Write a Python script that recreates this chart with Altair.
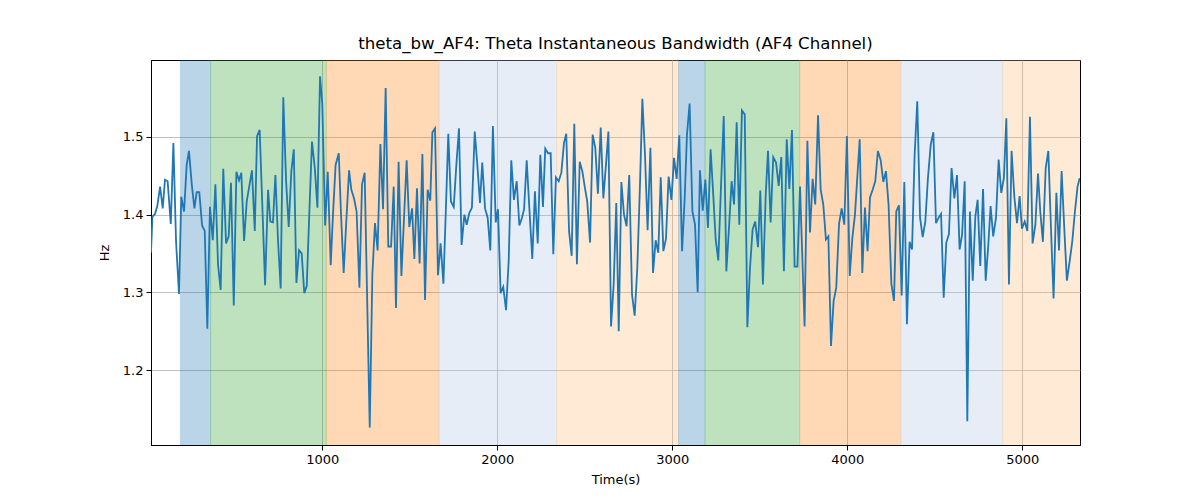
import altair as alt
import pandas as pd

TIME_S = [21, 29, 44, 57, 73, 88, 101, 116, 134, 149, 164, 181, 194, 210, 225, 238, 254, 269, 282, 297,
          313, 328, 343, 358, 374, 389, 404, 419, 434, 450, 465, 478, 494, 509, 524, 537, 553, 568, 583, 598,
          614, 627, 642, 657, 673, 690, 703, 718, 732, 747, 762, 777, 793, 808, 823, 837, 852, 867, 882, 897,
          911, 926, 941, 957, 972, 987, 1000, 1016, 1031, 1048, 1061, 1076, 1094, 1107, 1122, 1137, 1153, 1166, 1181, 1196,
          1212, 1227, 1242, 1255, 1271, 1286, 1301, 1316, 1332, 1347, 1362, 1377, 1393, 1408, 1421, 1436, 1452, 1467, 1482, 1497,
          1513, 1526, 1541, 1556, 1572, 1587, 1602, 1617, 1629, 1644, 1661, 1676, 1692, 1707, 1720, 1735, 1751, 1766, 1781, 1796,
          1812, 1825, 1840, 1855, 1871, 1886, 1901, 1914, 1930, 1945, 1960, 1975, 1991, 2004, 2019, 2034, 2050, 2065, 2080, 2095,
          2111, 2126, 2141, 2153, 2168, 2183, 2200, 2215, 2231, 2246, 2261, 2274, 2290, 2305, 2320, 2335, 2351, 2366, 2381, 2394,
          2410, 2425, 2440, 2455, 2471, 2486, 2501, 2514, 2530, 2545, 2560, 2575, 2591, 2606, 2621, 2635, 2650, 2665, 2680, 2694,
          2709, 2724, 2739, 2754, 2770, 2785, 2800, 2816, 2829, 2844, 2859, 2875, 2890, 2905, 2920, 2934, 2949, 2964, 2979, 2995,
          3010, 3025, 3040, 3056, 3071, 3084, 3099, 3115, 3130, 3145, 3158, 3174, 3189, 3204, 3219, 3234, 3248, 3263, 3278, 3294,
          3309, 3324, 3339, 3353, 3368, 3383, 3398, 3414, 3429, 3444, 3459, 3474, 3490, 3503, 3518, 3534, 3547, 3562, 3577, 3593,
          3608, 3623, 3638, 3654, 3669, 3684, 3699, 3715, 3730, 3756, 3772, 3787, 3802, 3817, 3833, 3848, 3863, 3878, 3892, 3907,
          3922, 3937, 3953, 3968, 3983, 3998, 4014, 4029, 4044, 4057, 4071, 4086, 4101, 4116, 4130, 4145, 4160, 4175, 4191, 4206,
          4221, 4236, 4252, 4267, 4280, 4295, 4311, 4326, 4341, 4356, 4370, 4385, 4400, 4416, 4431, 4446, 4461, 4477, 4492, 4507,
          4522, 4536, 4551, 4566, 4581, 4596, 4612, 4627, 4642, 4656, 4671, 4686, 4701, 4717, 4732, 4745, 4760, 4776, 4791, 4806,
          4819, 4834, 4850, 4865, 4880, 4895, 4909, 4924, 4939, 4955, 4970, 4985, 4998, 5014, 5029, 5044, 5059, 5075, 5090, 5103,
          5118, 5134, 5149, 5164, 5179, 5195, 5210, 5225, 5240, 5255, 5271, 5286, 5301, 5316, 5328]

BW_HZ = [1.351, 1.397, 1.401, 1.411, 1.436, 1.408, 1.445, 1.443, 1.388, 1.492, 1.366, 1.298, 1.423, 1.404, 1.464, 1.482, 1.439, 1.408, 1.429, 1.429,
         1.386, 1.379, 1.253, 1.410, 1.367, 1.439, 1.336, 1.303, 1.459, 1.363, 1.372, 1.441, 1.283, 1.455, 1.444, 1.454, 1.366, 1.417, 1.437, 1.457,
         1.379, 1.501, 1.509, 1.413, 1.309, 1.432, 1.391, 1.390, 1.451, 1.366, 1.305, 1.551, 1.443, 1.384, 1.456, 1.484, 1.312, 1.354, 1.350, 1.299,
         1.308, 1.404, 1.494, 1.460, 1.409, 1.578, 1.542, 1.386, 1.455, 1.335, 1.400, 1.464, 1.479, 1.400, 1.325, 1.391, 1.457, 1.432, 1.421, 1.404,
         1.306, 1.439, 1.454, 1.306, 1.126, 1.323, 1.389, 1.354, 1.491, 1.407, 1.563, 1.359, 1.359, 1.436, 1.280, 1.468, 1.321, 1.396, 1.470, 1.384,
         1.408, 1.343, 1.434, 1.337, 1.478, 1.290, 1.432, 1.418, 1.506, 1.511, 1.322, 1.363, 1.311, 1.413, 1.504, 1.417, 1.410, 1.464, 1.511, 1.361,
         1.400, 1.387, 1.402, 1.409, 1.507, 1.464, 1.415, 1.467, 1.408, 1.396, 1.354, 1.514, 1.390, 1.407, 1.299, 1.307, 1.277, 1.340, 1.470, 1.419,
         1.443, 1.386, 1.396, 1.407, 1.470, 1.409, 1.343, 1.430, 1.363, 1.477, 1.410, 1.485, 1.479, 1.479, 1.349, 1.448, 1.443, 1.454, 1.492, 1.504,
         1.379, 1.347, 1.517, 1.336, 1.468, 1.456, 1.434, 1.417, 1.364, 1.503, 1.486, 1.427, 1.512, 1.421, 1.464, 1.507, 1.256, 1.310, 1.415, 1.250,
         1.442, 1.400, 1.385, 1.451, 1.297, 1.270, 1.331, 1.443, 1.549, 1.477, 1.380, 1.486, 1.325, 1.367, 1.351, 1.448, 1.353, 1.369, 1.449, 1.419,
         1.473, 1.446, 1.502, 1.353, 1.422, 1.503, 1.543, 1.404, 1.387, 1.300, 1.457, 1.405, 1.445, 1.383, 1.484, 1.426, 1.368, 1.341, 1.434, 1.527,
         1.327, 1.383, 1.443, 1.413, 1.519, 1.387, 1.534, 1.529, 1.255, 1.331, 1.381, 1.391, 1.358, 1.431, 1.310, 1.426, 1.482, 1.390, 1.474, 1.467,
         1.437, 1.474, 1.327, 1.497, 1.433, 1.509, 1.333, 1.333, 1.436, 1.256, 1.495, 1.377, 1.446, 1.413, 1.528, 1.432, 1.413, 1.368, 1.372, 1.231,
         1.289, 1.306, 1.388, 1.408, 1.387, 1.501, 1.321, 1.370, 1.400, 1.447, 1.497, 1.325, 1.409, 1.353, 1.422, 1.432, 1.443, 1.482, 1.470, 1.442,
         1.456, 1.413, 1.311, 1.289, 1.404, 1.412, 1.296, 1.442, 1.259, 1.365, 1.355, 1.477, 1.546, 1.396, 1.371, 1.391, 1.447, 1.490, 1.506, 1.389,
         1.396, 1.401, 1.293, 1.364, 1.375, 1.460, 1.421, 1.451, 1.355, 1.374, 1.443, 1.134, 1.404, 1.315, 1.398, 1.419, 1.334, 1.433, 1.315, 1.361,
         1.411, 1.372, 1.396, 1.471, 1.428, 1.447, 1.524, 1.310, 1.482, 1.422, 1.389, 1.424, 1.382, 1.391, 1.379, 1.526, 1.363, 1.387, 1.453, 1.404,
         1.365, 1.460, 1.482, 1.383, 1.292, 1.428, 1.354, 1.456, 1.383, 1.315, 1.340, 1.366, 1.404, 1.436, 1.447]

BAND_START = [189, 362, 1023, 1667, 2339, 3036, 3187, 3728, 4307, 4888]
BAND_END = [362, 1023, 1667, 2339, 3036, 3187, 3728, 4307, 4888, 5330]
BAND_KIND = ["b", "g", "o", "lb", "lo", "b", "g", "o", "lb", "lo"]
KIND_NAMES = ["b", "g", "o", "lb", "lo"]
KIND_COLORS = ["#1f77b4", "#2ca02c", "#ff7f0e", "#aec7e8", "#ffbb78"]

X_TICKS = [1000, 2000, 3000, 4000, 5000]
Y_TICKS = [1.2, 1.3, 1.4, 1.5]

n = min(len(TIME_S), len(BW_HZ))
line_df = pd.DataFrame({"t": TIME_S[:n], "v": BW_HZ[:n]})
band_df = pd.DataFrame({"start": BAND_START, "end": BAND_END, "kind": BAND_KIND})

FONT = "DejaVu Sans"
xscale = alt.Scale(domain=[21, 5330], nice=False, zero=False)
yscale = alt.Scale(domain=[1.1035, 1.599], nice=False, zero=False)
cscale = alt.Scale(domain=KIND_NAMES, range=KIND_COLORS)

xaxis = alt.Axis(values=X_TICKS, title="Time(s)", format="d")
yaxis = alt.Axis(values=Y_TICKS, title="Hz", format=".1f")

bands = alt.Chart(band_df).mark_rect(opacity=0.3, strokeWidth=1, clip=True).encode(
    x=alt.X("start:Q", scale=xscale, axis=xaxis),
    x2="end:Q",
    color=alt.Color("kind:N", scale=cscale, legend=None),
    stroke=alt.Stroke("kind:N", scale=cscale, legend=None),
)

line = alt.Chart(line_df).mark_line(color="#1f77b4", strokeWidth=1.8, clip=True).encode(
    x=alt.X("t:Q", scale=xscale, axis=xaxis),
    y=alt.Y("v:Q", scale=yscale, axis=yaxis),
)

chart = alt.layer(bands, line).properties(
    width=929,
    height=385,
    autosize="none",
    padding={"left": 143, "top": 52, "right": 90, "bottom": 40},
    title=alt.TitleParams(
        "theta_bw_AF4: Theta Instantaneous Bandwidth (AF4 Channel)",
        font=FONT, fontSize=16.6, fontWeight="normal", color="black",
        anchor="middle", offset=7,
    ),
).configure_view(
    stroke="black", strokeWidth=1,
).configure_axis(
    grid=True, gridColor="#b0b0b0", gridWidth=0.8,
    domainColor="black", tickColor="black", tickSize=5,
    labelFont=FONT, labelFontSize=13, labelColor="black", labelPadding=3,
    titleFont=FONT, titleFontSize=13, titleColor="black", titleFontWeight="normal",
).configure_axisX(titlePadding=7).configure_axisY(titlePadding=11)

chart.save("out.html", embed_options={"renderer": "svg", "actions": False})
